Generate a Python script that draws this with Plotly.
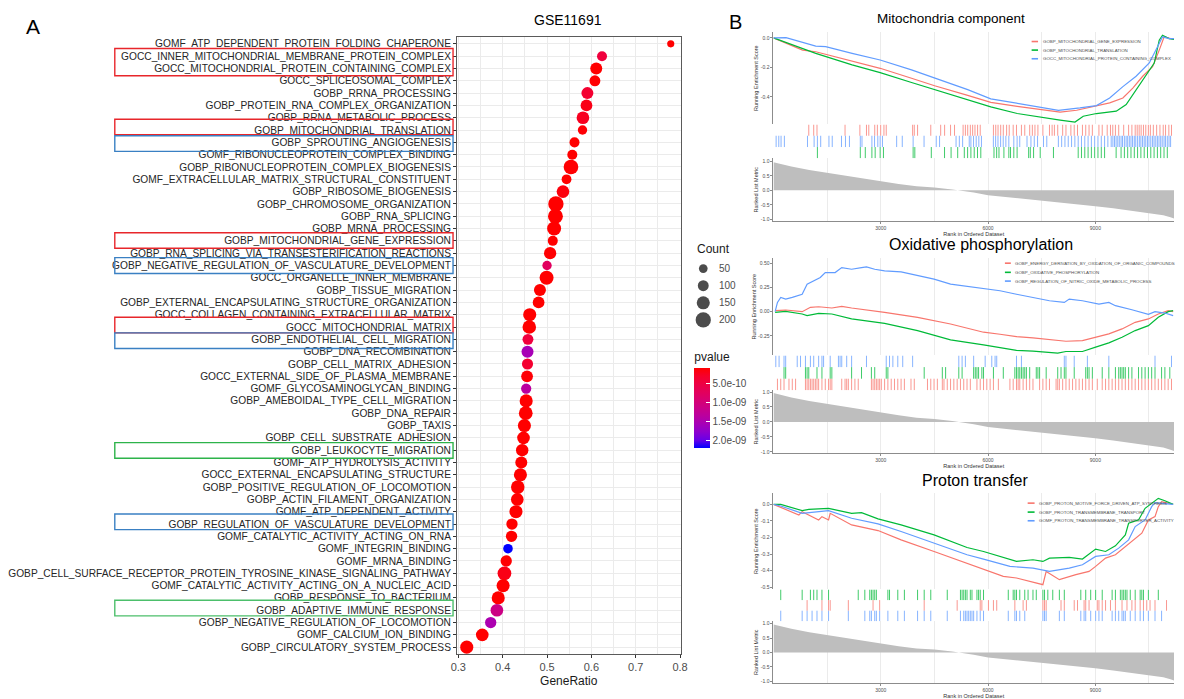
import plotly.graph_objects as go

W, H = 1184, 699
FONT = "Liberation Sans, Arial, sans-serif"

# ---------------- Panel A data ----------------
terms = [
    "GOMF_ATP_DEPENDENT_PROTEIN_FOLDING_CHAPERONE",
    "GOCC_INNER_MITOCHONDRIAL_MEMBRANE_PROTEIN_COMPLEX",
    "GOCC_MITOCHONDRIAL_PROTEIN_CONTAINING_COMPLEX",
    "GOCC_SPLICEOSOMAL_COMPLEX",
    "GOBP_RRNA_PROCESSING",
    "GOBP_PROTEIN_RNA_COMPLEX_ORGANIZATION",
    "GOBP_RRNA_METABOLIC_PROCESS",
    "GOBP_MITOCHONDRIAL_TRANSLATION",
    "GOBP_SPROUTING_ANGIOGENESIS",
    "GOMF_RIBONUCLEOPROTEIN_COMPLEX_BINDING",
    "GOBP_RIBONUCLEOPROTEIN_COMPLEX_BIOGENESIS",
    "GOMF_EXTRACELLULAR_MATRIX_STRUCTURAL_CONSTITUENT",
    "GOBP_RIBOSOME_BIOGENESIS",
    "GOBP_CHROMOSOME_ORGANIZATION",
    "GOBP_RNA_SPLICING",
    "GOBP_MRNA_PROCESSING",
    "GOBP_MITOCHONDRIAL_GENE_EXPRESSION",
    "GOBP_RNA_SPLICING_VIA_TRANSESTERIFICATION_REACTIONS",
    "GOBP_NEGATIVE_REGULATION_OF_VASCULATURE_DEVELOPMENT",
    "GOCC_ORGANELLE_INNER_MEMBRANE",
    "GOBP_TISSUE_MIGRATION",
    "GOBP_EXTERNAL_ENCAPSULATING_STRUCTURE_ORGANIZATION",
    "GOCC_COLLAGEN_CONTAINING_EXTRACELLULAR_MATRIX",
    "GOCC_MITOCHONDRIAL_MATRIX",
    "GOBP_ENDOTHELIAL_CELL_MIGRATION",
    "GOBP_DNA_RECOMBINATION",
    "GOBP_CELL_MATRIX_ADHESION",
    "GOCC_EXTERNAL_SIDE_OF_PLASMA_MEMBRANE",
    "GOMF_GLYCOSAMINOGLYCAN_BINDING",
    "GOBP_AMEBOIDAL_TYPE_CELL_MIGRATION",
    "GOBP_DNA_REPAIR",
    "GOBP_TAXIS",
    "GOBP_CELL_SUBSTRATE_ADHESION",
    "GOBP_LEUKOCYTE_MIGRATION",
    "GOMF_ATP_HYDROLYSIS_ACTIVITY",
    "GOCC_EXTERNAL_ENCAPSULATING_STRUCTURE",
    "GOBP_POSITIVE_REGULATION_OF_LOCOMOTION",
    "GOBP_ACTIN_FILAMENT_ORGANIZATION",
    "GOMF_ATP_DEPENDENT_ACTIVITY",
    "GOBP_REGULATION_OF_VASCULATURE_DEVELOPMENT",
    "GOMF_CATALYTIC_ACTIVITY_ACTING_ON_RNA",
    "GOMF_INTEGRIN_BINDING",
    "GOMF_MRNA_BINDING",
    "GOBP_CELL_SURFACE_RECEPTOR_PROTEIN_TYROSINE_KINASE_SIGNALING_PATHWAY",
    "GOMF_CATALYTIC_ACTIVITY_ACTING_ON_A_NUCLEIC_ACID",
    "GOBP_RESPONSE_TO_BACTERIUM",
    "GOBP_ADAPTIVE_IMMUNE_RESPONSE",
    "GOBP_NEGATIVE_REGULATION_OF_LOCOMOTION",
    "GOMF_CALCIUM_ION_BINDING",
    "GOBP_CIRCULATORY_SYSTEM_PROCESS",
]
gene_ratio = [0.779, 0.624, 0.611, 0.608, 0.591, 0.589, 0.581, 0.580, 0.562, 0.557,
              0.554, 0.544, 0.536, 0.520, 0.519, 0.516, 0.513, 0.507, 0.500, 0.499,
              0.484, 0.481, 0.461, 0.460, 0.457, 0.456, 0.456, 0.455, 0.453, 0.453,
              0.452, 0.449, 0.447, 0.444, 0.442, 0.440, 0.434, 0.433, 0.430, 0.421,
              0.420, 0.412, 0.408, 0.404, 0.401, 0.390, 0.387, 0.373, 0.354, 0.319]
counts = [15, 80, 125, 100, 125, 120, 140, 65, 80, 80,
          185, 75, 140, 200, 190, 170, 80, 130, 65, 170,
          125, 120, 150, 160, 100, 125, 105, 120, 85, 150,
          165, 150, 140, 135, 125, 150, 160, 140, 150, 110,
          110, 70, 110, 165, 150, 150, 140, 110, 140, 150]
pvalues = [9e-11, 4.5e-10, 9e-11, 1.0e-10, 3.5e-10, 2.0e-10, 2.5e-10, 1.2e-10, 9e-11, 9e-11,
           1.0e-10, 9e-11, 1.5e-10, 9e-11, 9e-11, 9e-11, 9e-11, 1.0e-10, 7.5e-10, 9e-11,
           9e-11, 9e-11, 9e-11, 9e-11, 4.5e-10, 1.55e-09, 3.5e-10, 1.2e-10, 1.35e-09, 9e-11,
           9e-11, 9e-11, 9e-11, 9e-11, 9e-11, 9e-11, 9e-11, 9e-11, 9e-11, 9e-11,
           9e-11, 2.19e-09, 1.0e-10, 2.0e-10, 9e-11, 9e-11, 1.1e-09, 1.5e-09, 9e-11, 9e-11]
count_breaks = [50, 100, 150, 200]
p_breaks = [5e-10, 1e-09, 1.5e-09, 2e-09]
p_break_labels = ["5.0e-10", "1.0e-09", "1.5e-09", "2.0e-09"]
ratio_ticks = [0.3, 0.4, 0.5, 0.6, 0.7, 0.8]

# ---------------- Panel B data ----------------
metric_rank = [0, 200, 500, 1000, 1500, 2000, 2500, 3000, 3500, 4000, 4500, 5000, 5200,
               5600, 6000, 6500, 7000, 7500, 8000, 8500, 9000, 9500, 10000, 10500,
               10900, 11100, 11200]
metric_value = [0.97, 0.90, 0.82, 0.70, 0.60, 0.50, 0.40, 0.30, 0.22, 0.14, 0.10, 0.03, 0.0,
                -0.08, -0.17, -0.23, -0.29, -0.36, -0.42, -0.48, -0.55, -0.62, -0.70, -0.78,
                -0.86, -0.93, -0.97]

# Panel 1: Mitochondria component
p1_names = ["GOBP_MITOCHONDRIAL_GENE_EXPRESSION", "GOBP_MITOCHONDRIAL_TRANSLATION",
            "GOCC_MITOCHONDRIAL_PROTEIN_CONTAINING_COMPLEX"]
p1_red_rank = [0, 813, 1182, 2198, 2983, 3860, 4506, 5430, 6076, 6815, 7369, 8015, 8477, 9031,
               9400, 9770, 10047, 10324, 10600, 10786, 10924, 11200]
p1_red_es = [0, -0.083, -0.094, -0.16, -0.206, -0.273, -0.324, -0.389, -0.436, -0.463, -0.48,
             -0.503, -0.49, -0.463, -0.44, -0.407, -0.34, -0.26, -0.195, -0.083, 0.007, -0.011]
p1_green_rank = [0, 1182, 2198, 2983, 3860, 4506, 5430, 6076, 6815, 7369, 8015, 8431, 8661, 9031,
                 9585, 9862, 10139, 10416, 10647, 10786, 10878, 11062, 11200]
p1_green_es = [0, -0.105, -0.183, -0.235, -0.302, -0.351, -0.418, -0.467, -0.512, -0.534, -0.556,
               -0.57, -0.53, -0.512, -0.496, -0.451, -0.351, -0.26, -0.17, -0.016, 0.018, -0.005,
               -0.011]
p1_blue_rank = [0, 351, 1182, 1459, 2198, 2983, 3860, 4506, 5430, 6076, 6815, 7369, 7969, 8569,
                9031, 9400, 9770, 10139, 10508, 10739, 10878, 11062, 11200]
p1_blue_es = [0, 0.002, -0.056, -0.06, -0.105, -0.15, -0.217, -0.273, -0.35, -0.413, -0.445,
              -0.467, -0.49, -0.474, -0.458, -0.407, -0.33, -0.26, -0.17, -0.06, 0.007, -0.005,
              -0.005]
p1_red_hits = [987, 1125, 1217, 2001, 2416, 2600, 2665, 2831, 2905, 2997, 3089, 3153, 3891, 3937,
               4029, 4398, 4675, 4785, 4951, 5062, 5302, 5366, 5431, 5504, 5569, 5634, 5707, 5781,
               6150, 6215, 6279, 6353, 6426, 6519, 6592, 6703, 6795, 6933, 7026, 7164, 7238, 7311,
               7394, 7533, 7717, 7791, 7855, 7948, 8086, 8178, 8316, 8409, 8501, 8639, 8731, 8824,
               8916, 9100, 9192, 9331, 9423, 9487, 9561, 9653, 9792, 9930, 10022, 10114, 10170,
               10225, 10280, 10345, 10410, 10483, 10538, 10621, 10714, 10806, 10898, 10963,
               11055, 11129]
p1_blue_hits = [74, 148, 212, 305, 951, 1136, 1228, 1320, 1551, 1643, 1902, 2013, 2124, 2428,
                2475, 2752, 2826, 2917, 2983, 3047, 3444, 3601, 3905, 4210, 4551, 4644, 5105,
                5197, 5289, 5474, 5520, 5594, 5668, 5742, 5815, 6148, 6212, 6277, 6351, 6424,
                6498, 6581, 6720, 6812, 6886, 7089, 7199, 7292, 7384, 7550, 7642, 7966, 8058,
                8150, 8242, 8335, 8427, 8520, 8612, 8704, 8797, 8889, 8981, 9073, 9166, 9258,
                9350, 9443, 9535, 9627, 9719, 9812, 9904, 9996, 10089, 10181, 10273, 10366,
                10458, 10550, 10642, 10735, 10827, 10920, 11012, 11104, 9490, 9580, 9670,
                9760, 9860, 9950, 10040, 10130, 10230, 10320, 10410, 10500, 10600, 10690,
                10780, 10870, 10960, 11060]
p1_green_hits = [1228, 2428, 2567, 2752, 2843, 2983, 3075, 3905, 3952, 4413, 4783, 4966, 5151,
                 5336, 5428, 5520, 5613, 5705, 5797, 6166, 6240, 6305, 6443, 6581, 6628, 6720,
                 6812, 7135, 7181, 7273, 7458, 7828, 8520, 8612, 8704, 8797, 8889, 8981, 9073,
                 9166, 9258, 9581, 9719, 9812, 9904, 9996, 10089, 10181, 10273, 10366, 10458,
                 10550, 10642, 10735, 10827, 10920, 11012]

# Panel 2: Oxidative phosphorylation
p2_names = ["GOBP_ENERGY_DERIVATION_BY_OXIDATION_OF_ORGANIC_COMPOUNDS",
            "GOBP_OXIDATIVE_PHOSPHORYLATION",
            "GOBP_REGULATION_OF_NITRIC_OXIDE_METABOLIC_PROCESS"]
p2_red_rank = [46, 341, 802, 1033, 1263, 1632, 1909, 2185, 3107, 4029, 4951, 5873, 6334, 6795,
               7256, 7717, 8178, 8639, 9008, 9377, 9746, 10114, 10483, 10760, 11036, 11175]
p2_red_es = [0.01, 0.017, 0.0, 0.045, 0.051, 0.038, 0.055, 0.038, -0.007, -0.058, -0.127,
             -0.212, -0.233, -0.257, -0.27, -0.288, -0.305, -0.298, -0.264, -0.229, -0.178,
             -0.11, -0.075, -0.024, 0.01, 0.0]
p2_green_rank = [46, 341, 802, 940, 1263, 1632, 2185, 3107, 4029, 4951, 5873, 6795, 7256, 7717,
                 7948, 8178, 8639, 9008, 9377, 9746, 10114, 10483, 10760, 11036, 11175]
p2_green_es = [-0.007, 0.003, -0.024, -0.041, -0.017, -0.024, -0.075, -0.12, -0.195, -0.291,
               -0.342, -0.4, -0.408, -0.418, -0.428, -0.411, -0.411, -0.366, -0.322, -0.264,
               -0.195, -0.144, -0.058, 0.0, 0.01]
p2_blue_rank = [46, 111, 203, 341, 526, 664, 802, 940, 1125, 1309, 1448, 1724, 1909, 2185, 2462,
                2600, 2831, 3107, 3568, 4029, 4490, 4951, 5412, 5873, 6334, 6795, 7256, 7717,
                8132, 8270, 8639, 9100, 9377, 9561, 10022, 10483, 10668, 10944, 11175]
p2_blue_es = [0.0, 0.096, 0.147, 0.13, 0.147, 0.164, 0.18, 0.284, 0.318, 0.353, 0.404, 0.404,
              0.455, 0.438, 0.455, 0.462, 0.438, 0.421, 0.411, 0.37, 0.336, 0.284, 0.26, 0.233,
              0.216, 0.18, 0.147, 0.113, 0.096, 0.13, 0.113, 0.079, 0.096, 0.062, 0.02, -0.027,
              0.0, -0.014, -0.041]
p2_blue_hits = [65, 157, 295, 341, 664, 756, 894, 1033, 1125, 1263, 1355, 1401, 1586, 1816,
                1862, 1909, 2047, 2185, 2600, 3153, 3245, 3338, 3476, 3614, 3891, 5182, 5274,
                5366, 5597, 5919, 6104, 6196, 6242, 6795, 6933, 8132, 8178, 8409, 8777, 9377,
                10668, 11129]
p2_green_hits = [295, 341, 894, 940, 987, 1217, 1355, 1586, 1632, 2185, 2462, 2738, 2831, 3153,
                 3199, 4214, 4721, 4813, 5182, 5274, 5597, 5643, 5689, 5735, 5827, 5873, 6150,
                 6426, 6749, 6795, 6841, 6887, 6933, 6980, 7026, 7072, 7164, 7348, 7394, 7441,
                 7625, 7948, 8040, 8132, 8178, 8409, 8731, 8777, 8824, 8916, 9192, 9377, 9561,
                 9653, 9699, 9746, 9792, 9838, 9930, 10022, 10207, 10299, 10391, 10483, 10575,
                 10668, 10852, 10944, 11082]
p2_red_hits = [111, 203, 295, 433, 526, 618, 894, 940, 987, 1033, 1079, 1125, 1171, 1217, 1263,
               1355, 1448, 1540, 1586, 1632, 1909, 2001, 2047, 2093, 2185, 2277, 2370, 2738,
               2784, 2831, 2877, 2923, 2969, 3015, 3107, 3199, 3292, 3384, 3476, 3568, 3660,
               3845, 3937, 4306, 4398, 4490, 4582, 4721, 4767, 4859, 4951, 5043, 5136, 5228,
               5320, 5412, 5504, 5689, 5781, 5873, 5965, 6058, 6150, 6288, 6611, 6703, 6795,
               6841, 6887, 6980, 7072, 7164, 7256, 7441, 7533, 7625, 7717, 7902, 7948, 7994,
               8086, 8178, 8270, 8363, 8455, 8547, 8639, 8731, 8824, 8916, 9054, 9192, 9285,
               9377, 9469, 9561, 9653, 9746, 9838, 9930, 10022, 10114, 10207, 10299, 10391,
               10483, 10575, 10668, 10760, 10852, 10944, 11036, 11129]

# Panel 3: Proton transfer
p3_names = ["GOBP_PROTON_MOTIVE_FORCE_DRIVEN_ATP_SYNTHESIS",
            "GOBP_PROTON_TRANSMEMBRANE_TRANSPORT",
            "GOMF_PROTON_TRANSMEMBRANE_TRANSPORTER_ACTIVITY"]
p3_red_rank = [0, 203, 710, 802, 1263, 1355, 1540, 1586, 2185, 2923, 3568, 4490, 5412, 5873,
               6426, 6795, 7256, 7533, 7625, 7994, 8455, 8824, 9008, 9285, 9561, 9838, 10114,
               10299, 10483, 10668, 10760, 10852, 11175]
p3_red_es = [0, -0.018, -0.064, -0.044, -0.094, -0.074, -0.094, -0.054, -0.124, -0.158, -0.214,
             -0.284, -0.354, -0.39, -0.434, -0.444, -0.47, -0.484, -0.404, -0.454, -0.424,
             -0.404, -0.374, -0.324, -0.304, -0.254, -0.204, -0.174, -0.094, -0.074, -0.014,
             0.016, 0.0]
p3_green_rank = [0, 203, 802, 987, 1540, 2185, 2462, 2923, 3568, 4490, 5412, 5873, 6795, 7256,
                 7533, 7717, 8270, 8639, 9008, 9285, 9561, 9838, 9930, 10207, 10391, 10575,
                 10760, 10944, 11175]
p3_green_es = [0, 0.0, -0.038, -0.03, -0.024, -0.054, -0.05, -0.088, -0.124, -0.184, -0.26,
               -0.284, -0.344, -0.334, -0.344, -0.324, -0.32, -0.33, -0.27, -0.284, -0.25,
               -0.184, -0.114, -0.094, -0.024, 0.006, 0.036, 0.022, 0.0]
p3_blue_rank = [0, 203, 802, 1540, 2185, 2923, 3568, 4490, 5412, 5873, 6611, 7256, 7717, 8270,
                8639, 9008, 9377, 9653, 9930, 10114, 10391, 10575, 10668, 10852, 11175]
p3_blue_es = [0, -0.01, -0.054, -0.038, -0.084, -0.118, -0.164, -0.234, -0.304, -0.33, -0.374,
              -0.384, -0.404, -0.384, -0.364, -0.314, -0.304, -0.264, -0.214, -0.134, -0.094,
              -0.014, 0.01, 0.006, 0.0]
p3_green_hits = [203, 802, 1033, 1125, 1217, 1355, 1540, 2370, 2554, 2692, 2738, 2784, 2831,
                 2877, 3199, 3245, 3476, 3660, 4029, 4214, 4398, 4859, 5228, 5274, 5320, 5366,
                 5412, 5504, 5550, 5689, 5735, 5781, 5873, 6565, 6703, 6749, 6795, 6887, 7026,
                 7118, 7256, 7348, 7533, 7579, 7671, 7809, 7994, 8132, 8593, 8731, 8870, 9008,
                 9192, 9469, 9561, 9699, 9746, 9792, 9838, 9884, 9976, 10114, 10253, 10299,
                 10345, 10483, 10760]
p3_red_hits = [940, 1355, 1540, 1586, 2093, 2784, 2969, 4214, 5136, 5781, 5827, 6011, 6150,
               6242, 6749, 6980, 7072, 7533, 7579, 7625, 8040, 8132, 8409, 8501, 8685, 8731,
               8824, 9054, 9100, 9192, 9285, 9423, 9561, 9746, 9884, 10022, 10114, 10253, 10345,
               10437, 10529, 10668, 10990]
p3_blue_hits = [203, 802, 940, 1079, 1217, 1355, 1540, 2093, 2554, 2692, 2738, 2831, 2877, 2969,
                3199, 3476, 3660, 4029, 4214, 4398, 4859, 5228, 5320, 5366, 5412, 5458, 5504,
                5550, 5597, 5689, 5781, 5873, 6565, 6749, 6795, 6887, 7026, 7533, 7579, 7625,
                7994, 8132, 8593, 8685, 8731, 8870, 9008, 9100, 9192, 9469, 9561, 9653, 9746,
                9792, 9838, 9976, 10114, 10253, 10345, 10483, 10668, 10852]

N_GENES = 11200

# ---------------- helpers ----------------
def fx(px):
    return px / W


def fy(py):
    return 1 - py / H


def srgb_to_lab(rgb):
    def lin(c):
        c = c / 255.0
        return c / 12.92 if c <= 0.04045 else ((c + 0.055) / 1.055) ** 2.4
    r, g, b = [lin(c) for c in rgb]
    X = 0.4124 * r + 0.3576 * g + 0.1805 * b
    Y = 0.2126 * r + 0.7152 * g + 0.0722 * b
    Z = 0.0193 * r + 0.1192 * g + 0.9505 * b
    def f(t):
        return t ** (1 / 3) if t > 0.008856 else 7.787 * t + 16 / 116
    fxv, fyv, fzv = f(X / 0.95047), f(Y / 1.0), f(Z / 1.08883)
    return (116 * fyv - 16, 500 * (fxv - fyv), 200 * (fyv - fzv))


def lab_to_srgb(lab):
    L, a, b = lab
    fyv = (L + 16) / 116
    fxv = fyv + a / 500
    fzv = fyv - b / 200
    def finv(t):
        return t ** 3 if t ** 3 > 0.008856 else (t - 16 / 116) / 7.787
    X, Y, Z = 0.95047 * finv(fxv), finv(fyv), 1.08883 * finv(fzv)
    r = 3.2406 * X - 1.5372 * Y - 0.4986 * Z
    g = -0.9689 * X + 1.8758 * Y + 0.0415 * Z
    bb = 0.0557 * X - 0.2040 * Y + 1.0570 * Z
    def gam(c):
        c = max(0.0, min(1.0, c))
        return 12.92 * c if c <= 0.0031308 else 1.055 * c ** (1 / 2.4) - 0.055
    return "rgb(%d,%d,%d)" % tuple(round(gam(c) * 255) for c in (r, g, bb))


lab_blue = srgb_to_lab((0, 0, 255))
lab_red = srgb_to_lab((255, 0, 0))
colorscale = []
for i in range(11):
    t = i / 10
    lab = tuple(lab_blue[k] + (lab_red[k] - lab_blue[k]) * t for k in range(3))
    colorscale.append([t, lab_to_srgb(lab)])


def bubble(c):
    return 6.5 + 0.044 * c


fig = go.Figure()

# ---------------- Panel A ----------------
rows = list(range(1, len(terms) + 1))
fig.add_trace(go.Scatter(
    x=gene_ratio, y=rows, mode="markers", xaxis="x", yaxis="y", showlegend=False,
    marker=dict(size=[bubble(c) for c in counts], color=[-p for p in pvalues],
                colorscale=colorscale, cmin=-max(pvalues), cmax=-min(pvalues),
                line=dict(width=0), opacity=1,
                colorbar=dict(x=fx(696), xanchor="left", y=fy(447.5), yanchor="bottom",
                              len=99, lenmode="pixels", thickness=16, thicknessmode="pixels",
                              outlinewidth=0, xpad=0, ypad=0,
                              tickvals=[-b for b in p_breaks], ticktext=p_break_labels,
                              ticks="inside", ticklen=4, tickcolor="white",
                              tickfont=dict(size=10, color="#4d4d4d", family=FONT),
                              title=dict(text="pvalue", side="top",
                                         font=dict(size=12, color="#1a1a1a", family=FONT))))
))

# Count legend
fig.add_trace(go.Scatter(
    x=[0] * len(count_breaks), y=count_breaks, mode="markers", xaxis="x2", yaxis="y2",
    showlegend=False, marker=dict(size=[bubble(c) for c in count_breaks], color="black",
                                  line=dict(width=0))))

# ---------------- Panel B ----------------
RED, GREEN, BLUE = "#F8766D", "#00BA38", "#619CFF"
panels = [
    dict(title="Mitochondria component", tsize=13.5, tx=955, ty=17, names=p1_names,
         curves=[(p1_red_rank, p1_red_es), (p1_green_rank, p1_green_es), (p1_blue_rank, p1_blue_es)],
         hits=[p1_red_hits, p1_green_hits, p1_blue_hits], row_order=[0, 2, 1],
         es_dom=(30, 123), rug_dom=(123, 157), rank_dom=(157, 220),
         es_range=[-0.586, 0.0404], es_ticks=[0.0, -0.2, -0.4], es_lbl=["0.0", "-0.2", "-0.4"],
         rank_range=[-1.06, 1.101],
         leg=dict(lx0=1037, lx1=1043.5, tx=1046, ys=[39.7, 48.3, 57.0])),
    dict(title="Oxidative phosphorylation", tsize=16, tx=986, ty=244, names=p2_names,
         curves=[(p2_red_rank, p2_red_es), (p2_green_rank, p2_green_es), (p2_blue_rank, p2_blue_es)],
         hits=[p2_red_hits, p2_green_hits, p2_blue_hits], row_order=[2, 1, 0],
         es_dom=(257, 355), rug_dom=(355, 390), rank_dom=(390, 453),
         es_range=[-0.452, 0.555], es_ticks=[0.5, 0.25, 0.0, -0.25],
         es_lbl=["0.50", "0.25", "0.00", "-0.25"], rank_range=[-1.043, 1.057],
         leg=dict(lx0=1010, lx1=1016, tx=1018.5, ys=[262.3, 271.5, 280.3])),
    dict(title="Proton transfer", tsize=16, tx=980, ty=481, names=p3_names,
         curves=[(p3_red_rank, p3_red_es), (p3_green_rank, p3_green_es), (p3_blue_rank, p3_blue_es)],
         hits=[p3_red_hits, p3_green_hits, p3_blue_hits], row_order=[1, 0, 2],
         es_dom=(493, 590), rug_dom=(590, 622), rank_dom=(622, 684),
         es_range=[-0.513, 0.069], es_ticks=[0.0, -0.1, -0.2, -0.3, -0.4, -0.5],
         es_lbl=["0.0", "-0.1", "-0.2", "-0.3", "-0.4", "-0.5"], rank_range=[-1.059, 1.079],
         leg=dict(lx0=1033, lx1=1040, tx=1042.5, ys=[503.3, 512.3, 521.0])),
]
colors = [RED, GREEN, BLUE]

layout_axes = {}
annotations = []
shapes = []
SMALL = dict(size=5, color="#4d4d4d", family=FONT)
AXC = "#8c8c8c"
gx0, gx1 = fx(776), fx(1181)

for pi, P in enumerate(panels):
    base = 3 + 3 * pi
    es_id, rug_id, rk_id = base, base + 1, base + 2
    for k in range(3):
        xr, ye = P["curves"][k]
        fig.add_trace(go.Scatter(x=xr, y=ye, mode="lines", xaxis="x%d" % es_id,
                                 yaxis="y%d" % es_id, showlegend=False,
                                 line=dict(color=colors[k], width=1.2)))
    for k in range(3):
        slot = P["row_order"].index(k)  # 0 = top row
        y_top = 3 - slot
        y_bot = y_top - 1
        xs, ys = [], []
        for r in P["hits"][k]:
            xs += [r, r, None]
            ys += [y_bot, y_top, None]
        fig.add_trace(go.Scatter(x=xs, y=ys, mode="lines", xaxis="x%d" % rug_id,
                                 yaxis="y%d" % rug_id, showlegend=False,
                                 line=dict(color=colors[k], width=1), opacity=0.75))
    fig.add_trace(go.Scatter(x=metric_rank, y=metric_value, mode="lines", fill="tozeroy",
                             fillcolor="#BEBEBE", line=dict(width=0, color="#BEBEBE"),
                             xaxis="x%d" % rk_id, yaxis="y%d" % rk_id, showlegend=False))

    grid_minor = dict(tickvals=[1500, 4500, 7500, 10500], showgrid=True, gridcolor="#ebebeb",
                      gridwidth=0.8, ticks="")
    layout_axes["xaxis%d" % es_id] = dict(domain=[gx0, gx1], range=[0, N_GENES], anchor="y%d" % es_id,
                                          tickvals=[3000, 6000, 9000], showticklabels=False,
                                          ticks="", showgrid=True, gridcolor="#ebebeb",
                                          gridwidth=0.8, minor=grid_minor, zeroline=False,
                                          showline=False)
    layout_axes["yaxis%d" % es_id] = dict(domain=[fy(P["es_dom"][1]), fy(P["es_dom"][0])],
                                          range=P["es_range"], anchor="x%d" % es_id,
                                          tickvals=P["es_ticks"], ticktext=P["es_lbl"],
                                          tickfont=SMALL, ticks="outside", ticklen=2,
                                          tickcolor=AXC, showline=True, linecolor=AXC,
                                          linewidth=1, showgrid=False, zeroline=False,
                                          title=dict(text="Running Enrichment Score",
                                                     font=dict(size=5.5, color="#333333", family=FONT),
                                                     standoff=1))
    layout_axes["xaxis%d" % rug_id] = dict(domain=[gx0, gx1], range=[0, N_GENES], anchor="y%d" % rug_id,
                                           visible=False)
    layout_axes["yaxis%d" % rug_id] = dict(domain=[fy(P["rug_dom"][1]), fy(P["rug_dom"][0])],
                                           range=[0, 3], anchor="x%d" % rug_id, visible=False)
    layout_axes["xaxis%d" % rk_id] = dict(domain=[gx0, gx1], range=[0, N_GENES], anchor="y%d" % rk_id,
                                          tickvals=[3000, 6000, 9000], ticktext=["3000", "6000", "9000"],
                                          tickfont=SMALL, ticks="outside", ticklen=2, tickcolor=AXC,
                                          showgrid=True, gridcolor="#ebebeb", gridwidth=0.8,
                                          minor=grid_minor, showline=True, linecolor=AXC,
                                          linewidth=1, zeroline=False,
                                          title=dict(text="Rank in Ordered Dataset",
                                                     font=dict(size=5.5, color="#333333", family=FONT),
                                                     standoff=1))
    layout_axes["yaxis%d" % rk_id] = dict(domain=[fy(P["rank_dom"][1]), fy(P["rank_dom"][0])],
                                          range=P["rank_range"], anchor="x%d" % rk_id,
                                          tickvals=[1.0, 0.5, 0.0, -0.5, -1.0],
                                          ticktext=["1.0", "0.5", "0.0", "-0.5", "-1.0"],
                                          tickfont=SMALL, ticks="outside", ticklen=2, tickcolor=AXC,
                                          showline=True, linecolor=AXC, linewidth=1, showgrid=False,
                                          zeroline=False,
                                          title=dict(text="Ranked List Metric",
                                                     font=dict(size=5.5, color="#333333", family=FONT),
                                                     standoff=1))
    annotations.append(dict(text=P["title"], x=fx(P["tx"]), y=fy(P["ty"]), xref="paper", yref="paper",
                            showarrow=False, xanchor="center", yanchor="middle",
                            font=dict(size=P["tsize"], color="black", family=FONT)))
    L = P["leg"]
    for k in range(3):
        shapes.append(dict(type="line", xref="paper", yref="paper", x0=fx(L["lx0"]), x1=fx(L["lx1"]),
                           y0=fy(L["ys"][k]), y1=fy(L["ys"][k]), line=dict(color=colors[k], width=1.6)))
        annotations.append(dict(text=P["names"][k], x=fx(L["tx"]), y=fy(L["ys"][k]), xref="paper",
                                yref="paper", showarrow=False, xanchor="left", yanchor="middle",
                                font=dict(size=4.4, color="#4d4d4d", family=FONT)))

# ---------------- highlight boxes in panel A ----------------
boxes = [(1.38, 3.59, "#E8262B"), (7.12, 8.38, "#E8262B"), (8.46, 9.73, "#3A80C3"),
         (16.34, 17.6, "#E8262B"), (18.36, 19.65, "#3A80C3"), (23.2, 24.47, "#E8262B"),
         (24.47, 25.74, "#3A80C3"), (33.39, 34.65, "#2DB34A"), (39.18, 40.45, "#3A80C3"),
         (46.19, 47.46, "#4CBF6B")]
for y0, y1, c in boxes:
    shapes.append(dict(type="rect", xref="paper", yref="y", x0=fx(110), x1=fx(452), y0=y0, y1=y1,
                       line=dict(color=c, width=1.4), fillcolor="rgba(0,0,0,0)", layer="above"))

annotations.append(dict(text="Count", x=fx(697), y=fy(248), xref="paper", yref="paper",
                        showarrow=False, xanchor="left", yanchor="middle",
                        font=dict(size=12, color="#1a1a1a", family=FONT)))
for c in count_breaks:
    annotations.append(dict(text=str(c), x=0, y=c, xref="x2", yref="y2", xshift=14,
                            showarrow=False, xanchor="left", yanchor="middle",
                            font=dict(size=10, color="#4d4d4d", family=FONT)))

annotations.append(dict(text="GSE11691", x=fx(568), y=fy(18), xref="paper", yref="paper",
                        showarrow=False, xanchor="center", yanchor="middle",
                        font=dict(size=14, color="black", family=FONT)))
annotations.append(dict(text="A", x=fx(27), y=fy(25), xref="paper", yref="paper",
                        showarrow=False, xanchor="center", yanchor="middle",
                        font=dict(size=21, color="black", family=FONT)))
annotations.append(dict(text="B", x=fx(738), y=fy(20), xref="paper", yref="paper",
                        showarrow=False, xanchor="center", yanchor="middle",
                        font=dict(size=20, color="black", family=FONT)))

fig.update_layout(
    width=W, height=H, autosize=False, margin=dict(l=0, r=0, t=0, b=0),
    paper_bgcolor="white", plot_bgcolor="white", showlegend=False,
    font=dict(family=FONT),
    xaxis=dict(domain=[fx(456), fx(682)], range=[0.297, 0.801], anchor="y",
               tickvals=ratio_ticks, ticktext=[("%.1f" % v) for v in ratio_ticks],
               tickfont=dict(size=11, color="#4d4d4d", family=FONT), ticks="outside", ticklen=3,
               tickcolor="#333333", showgrid=True, gridcolor="#ebebeb", gridwidth=1,
               minor=dict(tickvals=[0.35, 0.45, 0.55, 0.65, 0.75], showgrid=True,
                          gridcolor="#ebebeb", gridwidth=0.6, ticks=""),
               showline=True, mirror=True, linecolor="#5a5a5a", linewidth=1, zeroline=False,
               title=dict(text="GeneRatio", font=dict(size=12, color="#1a1a1a", family=FONT),
                          standoff=4)),
    yaxis=dict(domain=[fy(655), fy(35)], range=[50.57, 0.43], anchor="x",
               tickvals=rows, ticktext=terms,
               tickfont=dict(size=10.2, color="#262626", family=FONT), ticks="outside", ticklen=3,
               tickcolor="#333333", showgrid=True, gridcolor="#ebebeb", gridwidth=1,
               showline=True, mirror=True, linecolor="#5a5a5a", linewidth=1, zeroline=False),
    xaxis2=dict(domain=[fx(695), fx(760)], range=[-1, 5.5], anchor="y2", visible=False),
    yaxis2=dict(domain=[fy(330), fy(258)], range=[231, 21.8], anchor="x2", visible=False),
    annotations=annotations, shapes=shapes,
)
fig.update_layout(**layout_axes)

fig.write_html("out.html", config={"displayModeBar": False},
               post_script="document.body.style.margin='0';")
